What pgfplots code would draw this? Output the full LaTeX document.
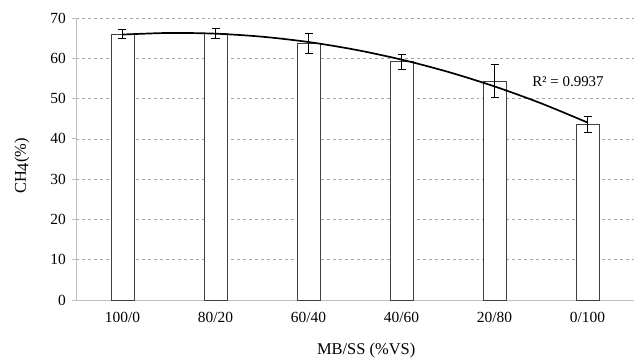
\documentclass[border=0pt]{standalone}
\usepackage{pgfplots}
\pgfplotsset{compat=1.18}
\usepackage{fontspec}
\setmainfont{Liberation Serif}
\definecolor{axgray}{HTML}{BFBFBF}
\definecolor{gridgray}{HTML}{A6A6A6}
\definecolor{baredge}{HTML}{404040}
\begin{document}
\fontsize{15}{18}\selectfont
\begin{tikzpicture}
\begin{axis}[
  at={(0,0)}, anchor=south west,
  scale only axis,
  width=558bp, height=282bp,
  xmin=-0.5, xmax=5.5, ymin=0, ymax=70,
  axis lines*=left,
  axis line style={axgray, line width=1pt},
  xtick={0,1,2,3,4,5},
  xticklabels={100/0,80/20,60/40,40/60,20/80,0/100},
  xtick style={draw=none},
  ytick={0,10,...,70},
  ytick style={axgray, line width=0.8pt},
  tick align=outside,
  major tick length=4bp,
  ymajorgrids,
  grid style={gridgray, dashed, line width=0.7pt},
  /pgf/number format/assume math mode=true,
  tick label style={font=\fontsize{15.5}{18}\selectfont},
  yticklabel style={xshift=-1bp},
  xticklabel style={yshift=-3bp},
  xlabel={MB/SS (\%VS)},
  ylabel={CH\raisebox{-0.15em}{4}(\%)},
  label style={font=\fontsize{16.5}{19}\selectfont},
  xlabel style={at={(axis description cs:0.52,-0.18)}, anchor=center},
  ylabel style={at={(axis description cs:-0.0968,0.475)}, anchor=center},
  clip=false,
]
\addplot[ybar, bar width=23bp, draw=baredge, fill=white, line width=1pt,
  error bars/.cd, y dir=both, y explicit,
  error bar style={black, line width=1pt},
  error mark options={rotate=90, mark size=4bp, black, line width=1pt}]
  coordinates {
  (0,66.0) +- (0,1.1)
  (1,66.2) +- (0,1.3)
  (2,63.7) +- (0,2.4)
  (3,59.1) +- (0,1.9)
  (4,54.3) +- (0,4.1)
  (5,43.5) +- (0,2.0)
  };
\addplot[black, line width=1.7pt, smooth, no markers] coordinates {
  (0,65.89) (0.5,66.29) (1,66.11) (1.5,65.36) (2,64.04) (2.5,62.14)
  (3,59.67) (3.5,56.63) (4,53.02) (4.5,48.83) (5,44.06)
};
\node[font=\fontsize{15}{18}\selectfont] at (axis cs:4.79,54.1) {R² = 0.9937};
\end{axis}
\pgfresetboundingbox
\path[use as bounding box] (-76bp,-60bp) rectangle (562bp,300bp);
\end{tikzpicture}
\end{document}
